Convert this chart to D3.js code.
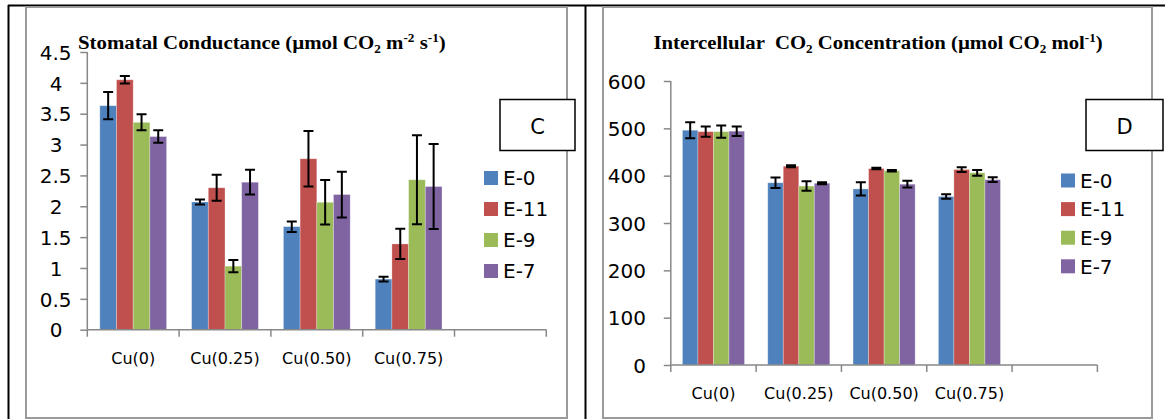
<!DOCTYPE html>
<html>
<head>
<meta charset="utf-8">
<script src="https://cdn.jsdelivr.net/npm/d3@7"></script>
<style>
  body { margin: 0; background: #fff; }
  svg { display: block; }
</style>
</head>
<body>
<div id="chart"></div>
<script>
const categories = ["Cu(0)", "Cu(0.25)", "Cu(0.50)", "Cu(0.75)", ""];
const series = ["E-0", "E-11", "E-9", "E-7"];
const colors = ["#4F81BD", "#C0504D", "#9BBB59", "#8064A2"];

// C: stomatal conductance, one array per series across Cu levels
const scE0 = [3.63, 2.07, 1.67, 0.82];
const scE11 = [4.05, 2.30, 2.77, 1.39];
const scE9 = [3.36, 1.03, 2.065, 2.43];
const scE7 = [3.13, 2.39, 2.19, 2.32];
const scErrE0 = [0.22, 0.04, 0.085, 0.04];
const scErrE11 = [0.06, 0.21, 0.45, 0.245];
const scErrE9 = [0.13, 0.10, 0.36, 0.72];
const scErrE7 = [0.10, 0.20, 0.37, 0.69];
const scTicks = [0, 0.5, 1, 1.5, 2, 2.5, 3, 3.5, 4, 4.5];

// D: intercellular CO2
const ciE0 = [496, 385, 372, 356];
const ciE11 = [493, 420, 415, 413];
const ciE9 = [493, 378, 410.5, 406];
const ciE7 = [494, 384, 382, 391.5];
const ciErrE0 = [17, 11, 14, 5];
const ciErrE11 = [11, 2, 1.5, 5];
const ciErrE9 = [13, 10, 1.5, 6];
const ciErrE7 = [10, 2, 7, 5];
const ciTicks = [0, 100, 200, 300, 400, 500, 600];

const sans = "'DejaVu Sans', sans-serif";

const svg = d3.select("#chart").append("svg")
    .attr("width", 1165).attr("height", 419);

// table borders
svg.append("path")
    .attr("d", "M8,5.5H1165M8.5,5V419M585.5,5V419")
    .attr("stroke", "#000").attr("stroke-width", 2).attr("fill", "none");

function panel(cfg) {
    const g = svg.append("g");

    // chart area frame
    g.append("rect")
        .attr("x", cfg.frame[0]).attr("y", 7)
        .attr("width", cfg.frame[1] - cfg.frame[0]).attr("height", 411)
        .attr("fill", "none").attr("stroke", "#9a9a9a").attr("stroke-width", 2);

    const x0 = d3.scaleBand().domain(categories).range(cfg.xRange);
    const bw = x0.bandwidth();
    const barW = bw / 5.5;
    const x1 = d3.scaleBand().domain(series).range([0.75 * barW, bw - 0.75 * barW]);
    const y = d3.scaleLinear().domain(cfg.yDomain).range(cfg.yRange);

    const rows = [];
    series.forEach((s, si) => {
        cfg.values[si].forEach((v, ci) => {
            rows.push({ s, si, cat: categories[ci], v, e: cfg.errors[si][ci] });
        });
    });

    g.selectAll("rect.bar")
        .data(rows)
        .join("rect")
        .attr("class", "bar")
        .attr("x", d => x0(d.cat) + x1(d.s))
        .attr("width", x1.bandwidth())
        .attr("y", d => y(d.v))
        .attr("height", d => y(0) - y(d.v))
        .attr("fill", d => colors[d.si])
        .attr("stroke", "#fff").attr("stroke-opacity", 0.35).attr("stroke-width", 0.8);

    // error bars
    const eb = g.append("g").attr("stroke", "#000").attr("stroke-width", 2).attr("fill", "none");
    eb.selectAll("path")
        .data(rows)
        .join("path")
        .attr("d", d => {
            const cx = x0(d.cat) + x1(d.s) + x1.bandwidth() / 2;
            const t = y(d.v + d.e), b = y(d.v - d.e);
            return `M${cx - 5},${t}H${cx + 5}M${cx},${t}V${b}M${cx - 5},${b}H${cx + 5}`;
        });

    // y axis
    const ax = cfg.xRange[0];
    const yAxis = g.append("g").attr("transform", `translate(${ax},0)`)
        .call(d3.axisLeft(y).tickValues(cfg.ticks).tickSize(7).tickFormat(d => d));
    yAxis.select(".domain").attr("stroke", "#888").attr("stroke-width", 1.5).attr("d", `M0,${cfg.yRange[1]}V${cfg.yRange[0]}`);
    yAxis.selectAll(".tick line").attr("stroke", "#888").attr("stroke-width", 1.5);
    yAxis.selectAll(".tick text")
        .attr("x", d => cfg.labelEnd - ax + (cfg.intShift && Number.isInteger(d) ? -9 : 0))
        .attr("dy", "0.36em")
        .attr("fill", "#000")
        .style("font-family", sans).style("font-size", "20px");

    // x axis
    const xAxis = g.append("g").attr("transform", `translate(0,${y(0)})`);
    xAxis.append("path")
        .attr("d", `M${cfg.xRange[0]},0H${cfg.xRange[1]}`)
        .attr("stroke", "#888").attr("stroke-width", 1.5);
    xAxis.selectAll("line")
        .data(categories.map(c => x0(c)).concat([cfg.xRange[1]]))
        .join("line")
        .attr("x1", d => d).attr("x2", d => d)
        .attr("y1", 0).attr("y2", 7)
        .attr("stroke", "#888").attr("stroke-width", 1.5);
    xAxis.selectAll("text")
        .data(categories)
        .join("text")
        .attr("x", d => x0(d) + bw / 2)
        .attr("y", cfg.catY - y(0))
        .attr("dy", "0.36em")
        .attr("text-anchor", "middle")
        .style("font-family", sans).style("font-size", "16px")
        .text(d => d);

    // title
    const title = g.append("text")
        .attr("x", 0).attr("y", 0)
        .style("font-family", "'Liberation Serif', 'Times New Roman', serif")
        .style("font-weight", "bold").style("font-size", "19px")
        .style("white-space", "pre");
    cfg.title.forEach(p => {
        const ts = title.append("tspan").text(p.t);
        if (p.sub) ts.attr("dy", 4).style("font-size", "12px");
        else if (p.sup) ts.attr("dy", -7).style("font-size", "12px");
        if (p.back) ts.attr("dy", p.back);
    });
    const tw = title.node().getComputedTextLength();
    title.attr("transform", `translate(${cfg.titleX[0]},49) scale(${(cfg.titleX[1] - cfg.titleX[0]) / tw},1)`);

    // letter box
    g.append("rect")
        .attr("x", cfg.box[0]).attr("y", 99.5)
        .attr("width", cfg.box[1] - cfg.box[0]).attr("height", 51)
        .attr("fill", "#fff").attr("stroke", "#000").attr("stroke-width", 1.5);
    g.append("text")
        .attr("x", (cfg.box[0] + cfg.box[1]) / 2).attr("y", 126)
        .attr("dy", "0.36em").attr("text-anchor", "middle")
        .style("font-family", sans).style("font-size", "21px")
        .text(cfg.letter);

    // legend
    const lg = g.selectAll("g.leg")
        .data(series)
        .join("g")
        .attr("class", "leg")
        .attr("transform", (d, i) => `translate(${cfg.legX},${cfg.legY + i * cfg.legStep})`);
    lg.append("rect")
        .attr("x", 0).attr("y", -7).attr("width", 14).attr("height", 14)
        .attr("fill", (d, i) => colors[i]);
    lg.append("text")
        .attr("x", 19).attr("dy", "0.36em")
        .style("font-family", sans).style("font-size", "20px")
        .text(d => d);
}

panel({
    frame: [26, 567],
    xRange: [87.3, 546.3],
    yDomain: [0, 4.5], yRange: [329.7, 52],
    ticks: scTicks, labelEnd: 71.5, intShift: true,
    catY: 358,
    values: [scE0, scE11, scE9, scE7],
    errors: [scErrE0, scErrE11, scErrE9, scErrE7],
    title: [
        { t: "Stomatal Conductance (µmol CO" }, { t: "2", sub: true },
        { t: " m", back: -4 }, { t: "-2", sup: true },
        { t: " s", back: 7 }, { t: "-1", sup: true },
        { t: ")", back: 7 }
    ],
    titleX: [78, 446],
    box: [500, 575], letter: "C",
    legX: 484, legY: 178, legStep: 31
});

panel({
    frame: [603, 1152],
    xRange: [670.8, 1097.4],
    yDomain: [0, 600], yRange: [365, 81],
    ticks: ciTicks, labelEnd: 646, intShift: false,
    catY: 393,
    values: [ciE0, ciE11, ciE9, ciE7],
    errors: [ciErrE0, ciErrE11, ciErrE9, ciErrE7],
    title: [
        { t: "Intercellular  CO" }, { t: "2", sub: true },
        { t: " Concentration (µmol CO", back: -4 }, { t: "2", sub: true },
        { t: " mol", back: -4 }, { t: "-1", sup: true },
        { t: ")", back: 7 }
    ],
    titleX: [653.5, 1103],
    box: [1086, 1163], letter: "D",
    legX: 1061, legY: 180.5, legStep: 28.6
});
</script>
</body>
</html>
